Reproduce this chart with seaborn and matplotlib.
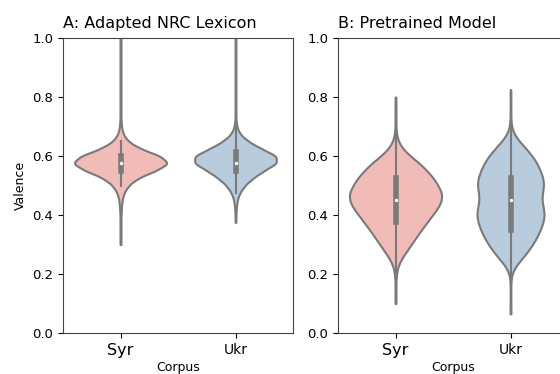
import numpy as np
import pandas as pd
import matplotlib
matplotlib.use("Agg")
import matplotlib.pyplot as plt
import seaborn as sns

# Valence values as (level, how many) pairs
nrc_syr_levels = [0.300, 0.325, 0.350, 0.375, 0.400, 0.425, 0.450, 0.475, 0.500, 0.525,
                  0.550, 0.575, 0.600, 0.625, 0.650, 0.675, 0.700, 0.725, 0.750, 0.775,
                  0.800, 0.825, 0.850, 0.875, 0.900, 0.925, 0.950, 0.975, 1.000]
nrc_syr_counts = [1, 1, 1, 1, 1, 2, 3, 7, 16, 35,
                  72, 100, 82, 40, 15, 5, 2, 1, 1, 1,
                  1, 1, 1, 1, 1, 1, 1, 1, 1]

nrc_ukr_levels = [0.375, 0.400, 0.425, 0.450, 0.475, 0.500, 0.525, 0.550, 0.575, 0.600,
                  0.625, 0.650, 0.675, 0.700, 0.725, 0.750, 0.775, 0.800, 0.825, 0.850,
                  0.875, 0.900, 0.925, 0.950, 0.975, 1.000]
nrc_ukr_counts = [1, 1, 2, 4, 10, 22, 42, 68, 100, 100,
                  62, 30, 10, 3, 1, 1, 1, 1, 1, 1,
                  1, 1, 1, 1, 1, 1]

pre_syr_levels = [0.100, 0.125, 0.150, 0.175, 0.200, 0.225, 0.250, 0.275, 0.300, 0.325,
                  0.350, 0.375, 0.400, 0.425, 0.450, 0.475, 0.500, 0.525, 0.550, 0.575,
                  0.600, 0.625, 0.650, 0.675, 0.700, 0.725, 0.750, 0.775, 0.800]
pre_syr_counts = [1, 1, 1, 1, 2, 5, 12, 23, 34, 45,
                  56, 68, 80, 92, 100, 100, 92, 82, 68, 52,
                  32, 15, 6, 2, 1, 1, 1, 1, 1]

pre_ukr_levels = [0.065, 0.075, 0.100, 0.125, 0.150, 0.175, 0.200, 0.225, 0.250, 0.275,
                  0.300, 0.325, 0.350, 0.375, 0.400, 0.425, 0.450, 0.475, 0.500, 0.525,
                  0.550, 0.575, 0.600, 0.625, 0.650, 0.675, 0.700, 0.725, 0.750, 0.775,
                  0.800, 0.825]
pre_ukr_counts = [1, 1, 1, 1, 1, 1, 4, 14, 32, 50,
                  65, 78, 88, 96, 100, 97, 92, 94, 98, 96,
                  88, 78, 64, 46, 26, 10, 3, 1, 1, 1,
                  1, 1]

corpora = ["Syr", "Ukr"]
panel_titles = ["A: Adapted NRC Lexicon", "B: Pretrained Model"]
y_ticks = [0.0, 0.2, 0.4, 0.6, 0.8, 1.0]


def build_frame(syr_levels, syr_counts, ukr_levels, ukr_counts):
    syr = np.repeat(syr_levels, syr_counts)
    ukr = np.repeat(ukr_levels, ukr_counts)
    return pd.DataFrame({
        "Corpus": ["Syr"] * len(syr) + ["Ukr"] * len(ukr),
        "Valence": np.concatenate([syr, ukr]),
    })


def fixed_bw(bw):
    # gaussian_kde wants a factor of the data std, we want an absolute bandwidth
    return lambda k: bw / np.std(k.dataset, ddof=1)


frames = [
    build_frame(nrc_syr_levels, nrc_syr_counts, nrc_ukr_levels, nrc_ukr_counts),
    build_frame(pre_syr_levels, pre_syr_counts, pre_ukr_levels, pre_ukr_counts),
]
bandwidths = [0.014, 0.016]

fig = plt.figure(figsize=(5.6, 3.74), dpi=100)
ax1 = fig.add_axes([63 / 560, 41 / 374, 230 / 560, 295 / 374])
ax2 = fig.add_axes([338 / 560, 41 / 374, 230 / 560, 295 / 374])

for ax, df, title, bw in zip([ax1, ax2], frames, panel_titles, bandwidths):
    sns.violinplot(data=df, x="Corpus", y="Valence", hue="Corpus", order=corpora,
                   palette="Pastel1", legend=False, cut=0, inner="box",
                   common_norm=True, linecolor="gray", linewidth=1.5, gridsize=400,
                   inner_kws=dict(box_width=4, whis_width=1.5, marker="."),
                   bw_method=fixed_bw(bw), ax=ax)
    ax.set_ylim(0, 1)
    ax.set_yticks(y_ticks)
    ax.set_yticklabels([f"{t:.1f}" for t in y_ticks], fontsize=9.5)
    ax.set_xticks([0, 1])
    ax.set_xticklabels(corpora)
    ax.get_xticklabels()[0].set_fontsize(11.5)
    ax.get_xticklabels()[1].set_fontsize(10)
    ax.set_title(title, loc="left", fontsize=11.5, pad=7)
    ax.set_xlabel("Corpus", fontsize=9, labelpad=2)
    ax.set_ylabel("")
    for s in ax.spines.values():
        s.set_color("#444444")

ax1.set_ylabel("Valence", fontsize=9)

fig.savefig("out.png", dpi=100)
